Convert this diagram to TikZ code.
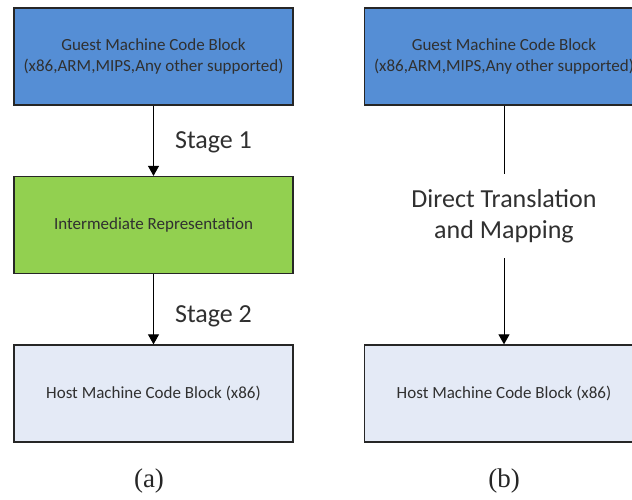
\documentclass[tikz,border=0pt]{standalone}
\usepackage{fontspec}
\setmainfont{Carlito}
\newfontfamily\capfont{Liberation Serif}
\usetikzlibrary{arrows.meta}
\definecolor{gblue}{HTML}{558ED5}
\definecolor{ggreen}{HTML}{92D050}
\definecolor{hlight}{HTML}{E4EAF6}
\definecolor{txtgray}{HTML}{303030}
\tikzset{
  blockbox/.style={draw=black!85, line width=1.3pt, minimum width=279pt, minimum height=97pt, inner sep=0pt, align=center, text=txtgray, font=\fontsize{17}{21}\selectfont},
  conn/.style={line width=1pt, -{Triangle[length=10pt,width=11pt]}},
  stagelbl/.style={text=txtgray, font=\fontsize{26}{31}\selectfont, align=center},
  caplbl/.style={font=\capfont\fontsize{27}{30}\selectfont, text=black!85}
}
\begin{document}
\begin{tikzpicture}[x=1pt,y=-1pt]
\useasboundingbox (0,0) rectangle (632,499);
\fill[white] (0,0) rectangle (632,499);
% left column
\node[blockbox, fill=gblue] (ga) at (153.5,56.5) {Guest Machine Code Block\\(x86,ARM,MIPS,Any other supported)};
\node[blockbox, fill=ggreen] (ir) at (153.5,225) {Intermediate Representation};
\node[blockbox, fill=hlight] (ha) at (153.5,393.5) {Host Machine Code Block (x86)};
\draw[conn] (ga) -- (ir);
\draw[conn] (ir) -- (ha);
\node[stagelbl] (s1) at (213.5,142) {Stage 1};
\node[stagelbl] (s2) at (213.5,316) {Stage 2};
\node[caplbl] (ca) at (149,481) {(a)};
% right column
\node[blockbox, fill=gblue] (gb) at (504,56.5) {Guest Machine Code Block\\(x86,ARM,MIPS,Any other supported)};
\node[blockbox, fill=hlight] (hb) at (504,393.5) {Host Machine Code Block (x86)};
\node[stagelbl, inner sep=0pt, minimum height=84pt] (dt) at (504,216) {Direct Translation\\and Mapping};
\draw[line width=1pt] (gb) -- (dt);
\draw[conn] (dt) -- (hb);
\node[caplbl] (cb) at (504,481) {(b)};
\end{tikzpicture}
\end{document}
